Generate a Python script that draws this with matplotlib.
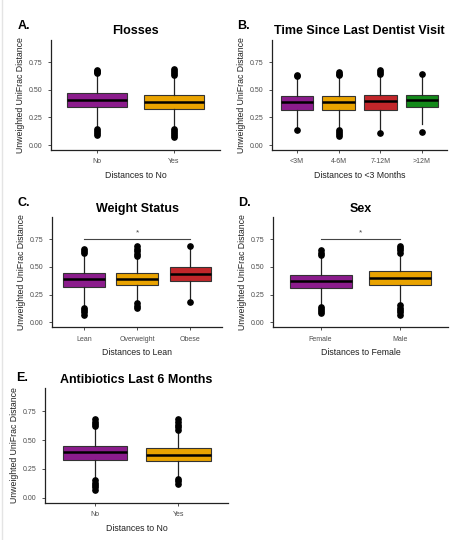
import matplotlib.pyplot as plt
from matplotlib.lines import Line2D

plt.rcParams['font.family'] = ['Liberation Sans', 'DejaVu Sans']

PURPLE = '#8B1C8C'
ORANGE = '#E9A300'
RED = '#C2262A'
GREEN = '#13891A'

# panel A: Flosses
floss_cats = ['No', 'Yes']
floss_q1 = [0.343, 0.330]
floss_med = [0.408, 0.390]
floss_q3 = [0.468, 0.452]
floss_lo = [0.17, 0.16]
floss_hi = [0.645, 0.62]
floss_fl_hi = [[0.65, 0.66, 0.67, 0.68], [0.63, 0.65, 0.67, 0.69]]
floss_fl_lo = [[0.09, 0.11, 0.13, 0.15], [0.07, 0.09, 0.11, 0.13, 0.15]]

# panel B: Time since last dentist visit
dent_cats = ['<3M', '4-6M', '7-12M', '>12M']
dent_q1 = [0.320, 0.320, 0.320, 0.345]
dent_med = [0.388, 0.390, 0.398, 0.410]
dent_q3 = [0.442, 0.448, 0.450, 0.455]
dent_lo = [0.16, 0.15, 0.13, 0.19]
dent_hi = [0.61, 0.62, 0.63, 0.63]
dent_fl_hi = [[0.62, 0.63], [0.63, 0.645, 0.66], [0.64, 0.66, 0.68], [0.645]]
dent_fl_lo = [[0.14], [0.08, 0.10, 0.12, 0.14], [0.11], [0.12]]

# panel C: Weight status
wt_cats = ['Lean', 'Overweight', 'Obese']
wt_q1 = [0.320, 0.335, 0.370]
wt_med = [0.388, 0.392, 0.440]
wt_q3 = [0.442, 0.442, 0.500]
wt_lo = [0.15, 0.18, 0.20]
wt_hi = [0.62, 0.59, 0.66]
wt_fl_hi = [[0.63, 0.645, 0.66], [0.60, 0.62, 0.64, 0.66, 0.69], [0.685]]
wt_fl_lo = [[0.07, 0.09, 0.11, 0.13], [0.13, 0.15, 0.17], [0.18]]

# panel D: Sex
sex_cats = ['Female', 'Male']
sex_q1 = [0.310, 0.340]
sex_med = [0.370, 0.400]
sex_q3 = [0.430, 0.462]
sex_lo = [0.15, 0.16]
sex_hi = [0.60, 0.62]
sex_fl_hi = [[0.61, 0.63, 0.65], [0.63, 0.65, 0.67, 0.69]]
sex_fl_lo = [[0.08, 0.10, 0.12, 0.14], [0.07, 0.09, 0.11, 0.13, 0.155]]

# panel E: Antibiotics last 6 months
abx_cats = ['No', 'Yes']
abx_q1 = [0.330, 0.320]
abx_med = [0.392, 0.372]
abx_q3 = [0.452, 0.432]
abx_lo = [0.16, 0.17]
abx_hi = [0.61, 0.58]
abx_fl_hi = [[0.62, 0.64, 0.66, 0.68], [0.59, 0.61, 0.63, 0.66, 0.68]]
abx_fl_lo = [[0.07, 0.09, 0.11, 0.13, 0.15], [0.12, 0.14, 0.16]]


def draw_panel(rect, letter, title, cats, q1, med, q3, lo, hi, fl_hi, fl_lo,
               colors, xlabel, sig=None, letter_xy=(-0.2, 1.07)):
    ax = fig.add_axes(rect)
    stats = []
    for i in range(len(cats)):
        stats.append({'med': med[i], 'q1': q1[i], 'q3': q3[i],
                      'whislo': lo[i], 'whishi': hi[i],
                      'fliers': fl_hi[i] + fl_lo[i], 'label': cats[i]})
    pos = list(range(1, len(cats) + 1))
    bp = ax.bxp(stats, positions=pos, widths=0.78, patch_artist=True,
                showcaps=False,
                boxprops=dict(edgecolor='#333333', linewidth=0.8),
                medianprops=dict(color='black', linewidth=1.8),
                whiskerprops=dict(color='#222222', linewidth=0.9),
                flierprops=dict(marker='o', markerfacecolor='black',
                                markeredgecolor='black', markersize=3.8))
    for patch, c in zip(bp['boxes'], colors):
        patch.set_facecolor(c)
    ax.set_xlim(0.4, len(cats) + 0.6)
    ax.set_ylim(-0.045, 0.95)
    ax.set_yticks([0.0, 0.25, 0.5, 0.75])
    ax.set_yticklabels(['0.00', '0.25', '0.50', '0.75'])
    ax.set_xticks(pos)
    ax.set_xticklabels(cats)
    ax.tick_params(labelsize=5, length=2.5, width=0.6, colors='#333333',
                   labelcolor='#4D4D4D')
    for s in ['top', 'right']:
        ax.spines[s].set_visible(False)
    for s in ['left', 'bottom']:
        ax.spines[s].set_linewidth(0.9)
        ax.spines[s].set_color('#222222')
    ax.set_ylabel('Unweighted UniFrac Distance', fontsize=6.3, color='#222222',
                  labelpad=3)
    ax.set_xlabel(xlabel, fontsize=6.3, color='#222222', labelpad=4)
    ax.set_title(title, fontsize=9, fontweight='bold', pad=4)
    ax.text(letter_xy[0], letter_xy[1], letter, transform=ax.transAxes,
            fontsize=9, fontweight='bold', va='bottom', ha='left')
    if sig is not None:
        a, b = sig
        ax.plot([a, b], [0.75, 0.75], color='#444444', linewidth=0.8)
        ax.text((a + b) / 2, 0.78, '*', ha='center', va='bottom', fontsize=6,
                color='#444444')
    return ax


fig = plt.figure(figsize=(4.6, 5.4), dpi=100)

draw_panel([0.111, 0.722, 0.367, 0.204], 'A.', 'Flosses', floss_cats,
           floss_q1, floss_med, floss_q3, floss_lo, floss_hi,
           floss_fl_hi, floss_fl_lo, [PURPLE, ORANGE], 'Distances to No')

draw_panel([0.591, 0.722, 0.381, 0.204], 'B.', 'Time Since Last Dentist Visit',
           dent_cats, dent_q1, dent_med, dent_q3, dent_lo, dent_hi,
           dent_fl_hi, dent_fl_lo, [PURPLE, ORANGE, RED, GREEN],
           'Distances to <3 Months')

draw_panel([0.113, 0.394, 0.370, 0.204], 'C.', 'Weight Status', wt_cats,
           wt_q1, wt_med, wt_q3, wt_lo, wt_hi, wt_fl_hi, wt_fl_lo,
           [PURPLE, ORANGE, RED], 'Distances to Lean', sig=(1, 3))

draw_panel([0.593, 0.394, 0.381, 0.204], 'D.', 'Sex', sex_cats,
           sex_q1, sex_med, sex_q3, sex_lo, sex_hi, sex_fl_hi, sex_fl_lo,
           [PURPLE, ORANGE], 'Distances to Female', sig=(1, 2))

draw_panel([0.098, 0.069, 0.398, 0.212], 'E.', 'Antibiotics Last 6 Months',
           abx_cats, abx_q1, abx_med, abx_q3, abx_lo, abx_hi,
           abx_fl_hi, abx_fl_lo, [PURPLE, ORANGE], 'Distances to No',
           letter_xy=(-0.16, 1.04))

# faint frame line on the left edge like the screenshot
fig.add_artist(Line2D([0.005, 0.005], [0.0, 1.0], color='#E4E4E4',
                      linewidth=1.0, transform=fig.transFigure))

fig.savefig('out.png', dpi=100)
